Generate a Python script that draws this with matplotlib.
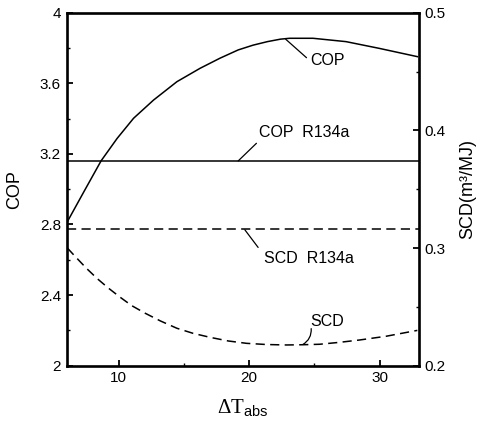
import matplotlib
matplotlib.use("Agg")
import matplotlib.pyplot as plt
from matplotlib.ticker import MultipleLocator

plt.rcParams["font.family"] = ["Liberation Sans", "DejaVu Sans"]
plt.rcParams["mathtext.fontset"] = "custom"
plt.rcParams["mathtext.rm"] = "Liberation Serif"
plt.rcParams["mathtext.sf"] = "Liberation Sans"

# values
cop_dt = [6.06, 7.33, 8.65, 9.88, 11.14, 12.67, 14.46, 16.24, 17.76, 19.16,
          20.3, 21.4, 22.4, 23.1, 24.9, 27.43, 29.97, 32.9]
cop = [2.816, 2.986, 3.161, 3.288, 3.402, 3.505, 3.609, 3.685, 3.742, 3.789,
       3.816, 3.836, 3.850, 3.855, 3.855, 3.836, 3.798, 3.751]

scd_dt = [6.06, 6.56, 7.5, 8.35, 9.2, 10.13, 11.0, 12.04, 13.2, 14.46,
          15.7, 17.0, 18.4, 19.8, 21.3, 22.85, 24.1, 25.4, 26.9, 28.45,
          30.5, 31.7, 32.9]
scd = [0.300, 0.294, 0.283, 0.274, 0.266, 0.258, 0.251, 0.2445, 0.238,
       0.2318, 0.2275, 0.2241, 0.221, 0.219, 0.218, 0.2176, 0.2178, 0.2182,
       0.2198, 0.2218, 0.225, 0.2275, 0.230]

ref_dt = [6.0, 33.0]
cop_r134a = [3.16, 3.16]
scd_r134a = [0.316, 0.316]

fig = plt.figure(figsize=(4.79, 4.23), dpi=100)
ax = fig.add_axes([0.139, 0.1355, 0.735, 0.8345])
ax2 = ax.twinx()

ax.plot(cop_dt, cop, color="black", lw=1.1)
ax.plot(ref_dt, cop_r134a, color="black", lw=1.1)
ax2.plot(scd_dt, scd, color="black", lw=1.1, dashes=(6, 3.5))
ax2.plot(ref_dt, scd_r134a, color="black", lw=1.1, dashes=(6, 3.5))

ax.set_xlim(6, 33)
ax.set_ylim(2, 4)
ax2.set_ylim(0.2, 0.5)

ax.xaxis.set_major_locator(MultipleLocator(10))
ax.xaxis.set_minor_locator(MultipleLocator(5))
ax.yaxis.set_minor_locator(MultipleLocator(0.2))
ax2.yaxis.set_major_locator(MultipleLocator(0.1))
ax2.yaxis.set_minor_locator(MultipleLocator(0.05))

ax.set_yticks([2, 2.4, 2.8, 3.2, 3.6, 4])
ax.set_yticklabels(["2", "2.4", "2.8", "3.2", "3.6", "4"])

for a in (ax, ax2):
    a.tick_params(which="major", direction="in", length=4, width=1.3,
                  labelsize=11, pad=4)
    a.tick_params(which="minor", direction="in", length=2.5, width=1)
for s in ax2.spines.values():
    s.set_linewidth(1.9)

ax.set_ylabel("COP", fontsize=13, labelpad=12)
ax2.set_ylabel("SCD(m\u00b3/MJ)", fontsize=13, labelpad=10)
ax.set_xlabel(r"$\Delta\mathrm{T}_{\mathsf{abs}}$", fontsize=15, labelpad=9)

# labels with leader lines
lead = dict(arrowstyle="-", lw=0.9, color="black", shrinkA=0, shrinkB=0)
ax.annotate("", xy=(22.8, 3.85), xytext=(24.4, 3.745), arrowprops=lead)
ax.text(26.0, 3.73, "COP", fontsize=11.5, ha="center", va="center")
ax.annotate("", xy=(19.16, 3.16), xytext=(20.56, 3.26), arrowprops=lead)
ax.text(24.26, 3.32, "COP  R134a", fontsize=11.5, ha="center", va="center")
ax.annotate("", xy=(19.67, 2.77), xytext=(20.69, 2.67), arrowprops=lead)
ax.text(24.58, 2.61, "SCD  R134a", fontsize=11.5, ha="center", va="center")
ax.annotate("", xy=(24.12, 2.12), xytext=(24.76, 2.21),
            arrowprops=dict(lead, connectionstyle="arc3,rad=-0.3"))
ax.text(25.95, 2.25, "SCD", fontsize=11.5, ha="center", va="center")

fig.savefig("out.png", dpi=100)
